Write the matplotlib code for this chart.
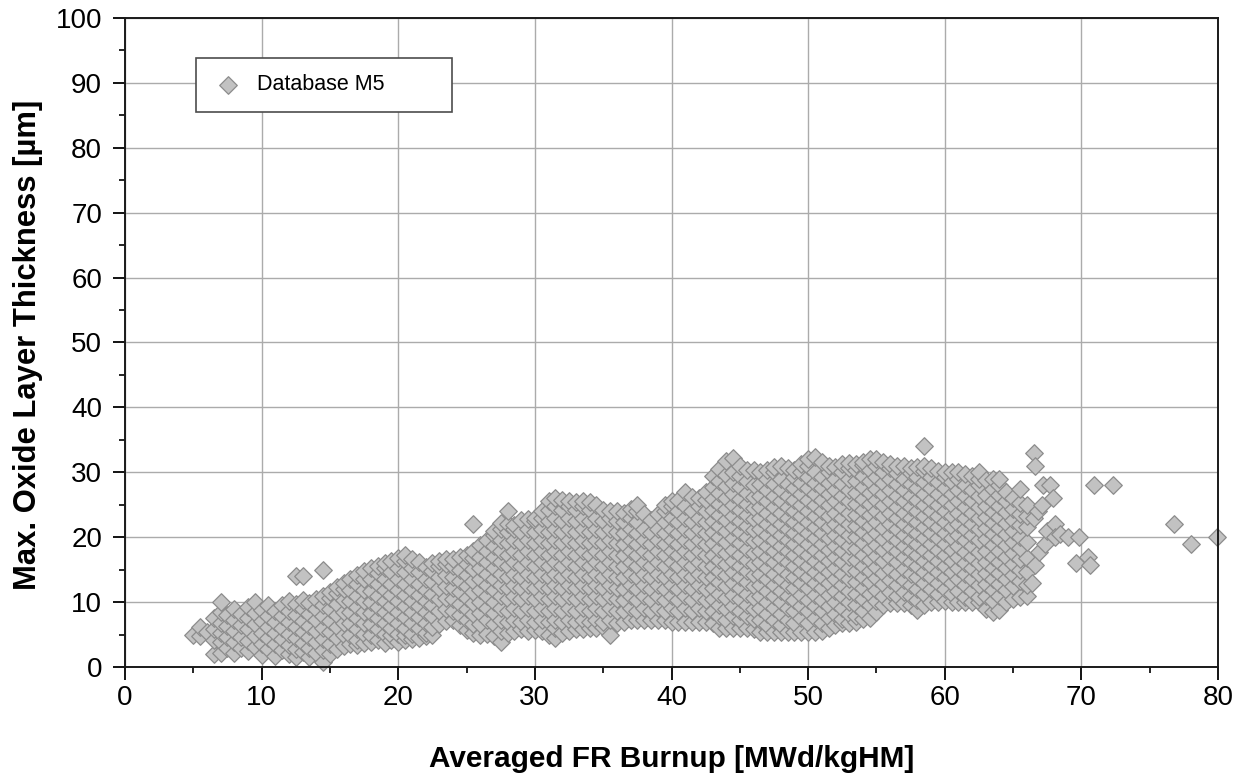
import matplotlib
matplotlib.use('Agg')
import matplotlib.pyplot as plt
from matplotlib.ticker import MultipleLocator
from matplotlib import rcParams

config = {
    "font.family": ['Liberation Sans', 'DejaVu Sans'],
    "font.size": 18,
    "axes.unicode_minus": False,
}
rcParams.update(config)

# (burnup, [oxide thickness values read in that burnup column])
low_columns = [
    (5.0, [5.0]),
    (5.5, [4.7, 6.1]),
    (6.0, [5.4]),
    (6.5, [2.0, 4.1, 5.9, 7.5]),
    (7.0, [2.2, 3.9, 5.2, 6.8, 8.4, 10.0]),
    (7.5, [3.0, 4.6, 6.3, 8.0]),
    (8.0, [2.1, 3.8, 5.5, 7.2, 8.9]),
    (8.5, [2.9, 4.6, 6.4, 8.1]),
    (9.0, [2.4, 4.0, 5.8, 7.5, 9.3]),
    (9.5, [3.1, 4.8, 6.6, 8.3, 10.0]),
    (10.0, [1.9, 3.6, 5.3, 7.1, 8.8]),
    (10.5, [2.7, 4.4, 6.2, 7.9, 9.6]),
    (11.0, [1.7, 3.5, 5.2, 6.9, 8.7]),
    (11.5, [2.6, 4.3, 6.0, 7.8, 9.6]),
    (12.0, [2.0, 3.4, 5.1, 6.9, 8.6, 10.2]),
    (12.5, [1.6, 2.8, 4.5, 6.2, 8.0, 9.7, 14.0]),
    (13.0, [2.3, 3.7, 5.4, 7.1, 8.9, 10.3, 14.0]),
    (13.5, [1.5, 3.0, 4.6, 6.3, 8.1, 9.8]),
    (14.0, [2.1, 3.8, 5.5, 7.2, 9.0, 10.5]),
    (14.5, [0.8, 2.6, 4.3, 6.0, 7.8, 9.5, 11.0, 15.0]),
    (15.0, [2.0, 3.6, 5.4, 7.1, 8.9, 10.6, 11.6]),
    (15.5, [2.8, 4.5, 6.2, 8.0, 9.7, 11.4, 12.3]),
    (16.0, [3.2, 5.0, 6.8, 8.5, 10.3, 12.0, 13.0]),
    (16.5, [3.6, 5.0, 6.7, 8.4, 10.1, 11.9, 13.6]),
    (17.0, [3.4, 4.2, 5.9, 7.6, 9.3, 11.0, 12.8, 14.2]),
    (17.5, [3.7, 5.1, 6.8, 8.5, 10.2, 11.9, 13.6, 14.8]),
    (18.0, [3.9, 5.0, 6.6, 8.3, 10.0, 11.7, 13.5, 15.2]),
    (18.5, [4.2, 5.9, 7.6, 9.3, 11.0, 12.8, 14.5, 15.5]),
    (19.0, [3.7, 5.1, 6.8, 8.5, 10.2, 11.9, 13.6, 15.3, 16.0]),
    (19.5, [4.1, 5.0, 6.0, 7.7, 9.4, 11.1, 12.8, 14.6, 16.4]),
    (20.0, [3.9, 5.1, 6.8, 8.5, 10.2, 11.9, 13.6, 15.3, 16.8]),
    (20.5, [4.2, 5.0, 6.0, 7.7, 9.4, 11.1, 12.8, 14.6, 16.3, 17.3]),
    (21.0, [4.3, 5.1, 6.8, 8.5, 10.2, 11.9, 13.6, 15.3, 16.6]),
    (21.5, [4.5, 6.0, 7.7, 9.4, 11.1, 12.8, 14.6, 16.2]),
    (22.0, [4.7, 5.3, 6.8, 8.5, 10.2, 11.9, 13.6, 15.4]),
]

mid_columns = [
    (22.5, [5.0, 6.2, 7.8, 9.6, 11.3, 13.1, 14.8, 16.0]),
    (23.0, [6.6, 8.7, 10.4, 12.2, 13.9, 15.6, 16.4]),
    (23.5, [7.1, 8.9, 10.7, 12.4, 14.2, 15.9, 16.6]),
    (24.0, [7.3, 8.7, 10.4, 12.2, 13.9, 15.6, 16.7]),
    (24.5, [6.5, 8.0, 9.7, 11.5, 13.2, 15.0, 17.0]),
    (25.0, [5.7, 7.3, 8.9, 10.6, 12.4, 14.1, 15.8, 17.2]),
    (25.5, [5.2, 6.6, 8.2, 9.9, 11.6, 13.3, 15.1, 16.8, 17.8, 22.0]),
    (26.0, [5.0, 6.6, 8.3, 10.0, 11.8, 13.5, 15.2, 17.0, 18.8]),
    (26.5, [5.1, 7.3, 9.1, 10.9, 12.6, 14.4, 16.1, 17.8, 19.6]),
    (27.0, [4.8, 6.6, 8.3, 10.0, 11.8, 13.5, 15.2, 17.0, 18.7, 20.4, 21.0]),
    (27.5, [3.8, 5.6, 7.3, 9.1, 10.9, 12.6, 14.4, 16.1, 17.8, 19.6, 21.3, 22.2]),
    (28.0, [5.3, 7.0, 8.7, 10.4, 12.2, 13.9, 15.6, 17.3, 19.1, 20.8, 22.0, 24.0]),
    (28.5, [5.6, 7.3, 9.1, 10.9, 12.6, 14.4, 16.1, 17.8, 19.6, 21.3, 21.8]),
    (29.0, [5.8, 7.0, 8.7, 10.4, 12.2, 13.9, 15.6, 17.3, 19.1, 20.8, 22.6]),
    (29.5, [5.6, 7.3, 9.1, 10.9, 12.6, 14.4, 16.1, 17.8, 19.6, 21.3, 22.8]),
    (30.0, [5.7, 7.0, 8.7, 10.4, 12.2, 13.9, 15.6, 17.3, 19.1, 20.8, 22.5, 23.0]),
    (30.5, [5.6, 7.3, 9.1, 10.9, 12.6, 14.4, 16.1, 17.8, 19.6, 21.3, 23.0, 24.0]),
    (31.0, [5.0, 7.0, 8.7, 10.4, 12.2, 13.9, 15.6, 17.3, 19.1, 20.8, 22.5, 24.2, 25.5]),
    (31.5, [4.5, 6.0, 7.3, 9.1, 10.9, 12.6, 14.4, 16.1, 17.8, 19.6, 21.3, 23.0, 24.8, 26.0]),
    (32.0, [5.2, 7.0, 8.7, 10.4, 12.2, 13.9, 15.6, 17.3, 19.1, 20.8, 22.5, 24.2, 25.8]),
    (32.5, [5.6, 7.3, 9.1, 10.9, 12.6, 14.4, 16.1, 17.8, 19.6, 21.3, 23.0, 24.8, 25.6]),
    (33.0, [5.8, 7.0, 8.7, 10.4, 12.2, 13.9, 15.6, 17.3, 19.1, 20.8, 22.5, 24.2, 25.4]),
    (33.5, [5.8, 7.3, 9.1, 10.9, 12.6, 14.4, 16.1, 17.8, 19.6, 21.3, 23.0, 24.8, 25.6]),
    (34.0, [6.0, 7.0, 8.7, 10.4, 12.2, 13.9, 15.6, 17.3, 19.1, 20.8, 22.5, 24.2, 25.4]),
    (34.5, [6.0, 7.3, 9.1, 10.9, 12.6, 14.4, 16.1, 17.8, 19.6, 21.3, 23.0, 25.0]),
    (35.0, [6.2, 7.0, 8.7, 10.4, 12.2, 13.9, 15.6, 17.3, 19.1, 20.8, 22.5, 24.2]),
    (35.5, [4.9, 7.3, 9.1, 10.9, 12.6, 14.4, 16.1, 17.8, 19.6, 21.3, 23.0, 24.0]),
    (36.0, [6.8, 8.7, 10.4, 12.2, 13.9, 15.6, 17.3, 19.1, 20.8, 22.5, 24.0]),
    (36.5, [7.0, 8.6, 10.3, 12.0, 13.8, 15.5, 17.2, 19.0, 20.7, 22.4, 23.8]),
    (37.0, [7.2, 9.1, 10.9, 12.6, 14.4, 16.1, 17.8, 19.6, 21.3, 23.0, 24.4]),
    (37.5, [7.2, 8.6, 10.3, 12.0, 13.8, 15.5, 17.2, 19.0, 20.7, 22.4, 24.1, 25.0]),
    (38.0, [7.2, 9.1, 10.9, 12.6, 14.4, 16.1, 17.8, 19.6, 21.3, 23.5]),
    (38.5, [7.2, 8.6, 10.3, 12.0, 13.8, 15.5, 17.2, 19.0, 20.7, 22.6]),
    (39.0, [7.2, 9.1, 10.9, 12.6, 14.4, 16.1, 17.8, 19.6, 21.3, 23.6]),
    (39.5, [7.2, 8.6, 10.3, 12.0, 13.8, 15.5, 17.2, 19.0, 20.7, 22.4, 24.1, 25.0]),
    (40.0, [7.0, 9.1, 10.9, 12.6, 14.4, 16.1, 17.8, 19.6, 21.3, 23.0, 24.8, 25.6]),
    (40.5, [7.0, 8.6, 10.3, 12.0, 13.8, 15.5, 17.2, 19.0, 20.7, 22.4, 24.1, 25.8]),
    (41.0, [7.0, 9.1, 10.9, 12.6, 14.4, 16.1, 17.8, 19.6, 21.3, 23.0, 24.8, 27.0]),
    (41.5, [7.0, 8.6, 10.3, 12.0, 13.8, 15.5, 17.2, 19.0, 20.7, 22.4, 24.1, 26.2]),
    (42.0, [7.0, 9.1, 10.9, 12.6, 14.4, 16.1, 17.8, 19.6, 21.3, 23.0, 24.8, 26.0]),
    (42.5, [7.0, 8.6, 10.3, 12.0, 13.8, 15.5, 17.2, 19.0, 20.7, 22.4, 24.1, 25.8, 27.0]),
]

high_columns = [
    (43.0, [6.8, 8.7, 10.4, 12.2, 13.9, 15.6, 17.3, 19.1, 20.8, 22.5, 24.2, 25.9, 27.7, 29.5]),
    (43.5, [6.0, 7.8, 9.6, 11.3, 13.1, 14.8, 16.5, 18.2, 20.0, 21.7, 23.4, 25.1, 26.8, 28.6, 30.5]),
    (44.0, [6.0, 7.2, 8.9, 10.6, 12.4, 14.1, 15.8, 17.5, 19.3, 21.0, 22.7, 24.4, 26.1, 27.9, 29.6, 31.8]),
    (44.5, [6.0, 7.8, 9.4, 11.1, 12.9, 14.6, 16.3, 18.0, 19.8, 21.5, 23.2, 24.9, 26.6, 28.4, 30.1, 32.2]),
    (45.0, [6.0, 7.3, 8.7, 10.4, 12.2, 13.9, 15.6, 17.3, 19.1, 20.8, 22.5, 24.2, 25.9, 27.7, 29.4, 31.0]),
    (45.5, [6.0, 7.8, 9.6, 11.3, 13.1, 14.8, 16.5, 18.2, 20.0, 21.7, 23.4, 25.1, 26.8, 28.6, 30.4]),
    (46.0, [5.8, 7.4, 9.0, 10.7, 12.5, 14.2, 15.9, 17.6, 19.4, 21.1, 22.8, 24.5, 26.2, 28.0, 30.3]),
    (46.5, [5.4, 7.3, 9.1, 10.9, 12.6, 14.4, 16.1, 17.8, 19.6, 21.3, 23.0, 24.7, 26.4, 28.2, 30.0]),
    (47.0, [5.4, 6.5, 8.2, 10.0, 11.7, 13.5, 15.2, 16.9, 18.6, 20.4, 22.1, 23.8, 25.5, 27.2, 29.0, 30.4]),
    (47.5, [5.4, 7.3, 9.1, 10.9, 12.6, 14.4, 16.1, 17.8, 19.6, 21.3, 23.0, 24.7, 26.4, 28.2, 30.0, 30.8]),
    (48.0, [5.4, 6.5, 8.2, 10.0, 11.7, 13.5, 15.2, 16.9, 18.6, 20.4, 22.1, 23.8, 25.5, 27.2, 29.0, 31.0]),
    (48.5, [5.4, 7.3, 9.1, 10.9, 12.6, 14.4, 16.1, 17.8, 19.6, 21.3, 23.0, 24.7, 26.4, 28.2, 30.6]),
    (49.0, [5.4, 6.8, 8.6, 10.3, 12.1, 13.8, 15.5, 17.2, 19.0, 20.7, 22.4, 24.1, 25.8, 27.6, 29.3, 30.4]),
    (49.5, [5.4, 7.6, 9.4, 11.1, 12.9, 14.6, 16.3, 18.0, 19.8, 21.5, 23.2, 24.9, 26.6, 28.4, 30.1, 31.2]),
    (50.0, [5.4, 6.8, 8.6, 10.3, 12.1, 13.8, 15.5, 17.2, 19.0, 20.7, 22.4, 24.1, 25.8, 27.6, 29.3, 31.0, 32.0]),
    (50.5, [5.4, 7.6, 9.4, 11.1, 12.9, 14.6, 16.3, 18.0, 19.8, 21.5, 23.2, 24.9, 26.6, 28.4, 30.1, 32.4]),
    (51.0, [5.6, 6.8, 8.6, 10.3, 12.1, 13.8, 15.5, 17.2, 19.0, 20.7, 22.4, 24.1, 25.8, 27.6, 29.3, 31.6]),
    (51.5, [6.0, 7.6, 9.4, 11.1, 12.9, 14.6, 16.3, 18.0, 19.8, 21.5, 23.2, 24.9, 26.6, 28.4, 30.1, 31.0]),
    (52.0, [6.4, 8.2, 10.0, 11.7, 13.5, 15.2, 16.9, 18.6, 20.4, 22.1, 23.8, 25.5, 27.2, 29.0, 30.8]),
    (52.5, [6.8, 7.4, 9.1, 10.9, 12.6, 14.4, 16.1, 17.8, 19.6, 21.3, 23.0, 24.7, 26.4, 28.2, 30.0, 31.2]),
    (53.0, [6.8, 8.2, 10.0, 11.7, 13.5, 15.2, 16.9, 18.6, 20.4, 22.1, 23.8, 25.5, 27.2, 29.0, 30.7, 31.4]),
    (53.5, [7.0, 7.8, 9.6, 11.3, 13.1, 14.8, 16.5, 18.2, 20.0, 21.7, 23.4, 25.1, 26.8, 28.6, 30.3, 31.2]),
    (54.0, [7.4, 8.7, 10.4, 12.2, 13.9, 15.6, 17.3, 19.1, 20.8, 22.5, 24.2, 25.9, 27.7, 29.4, 31.1, 31.6]),
    (54.5, [7.5, 9.6, 11.3, 13.1, 14.8, 16.5, 18.2, 20.0, 21.7, 23.4, 25.1, 26.8, 28.6, 30.3, 32.0]),
    (55.0, [8.5, 10.2, 11.9, 13.7, 15.4, 17.1, 18.8, 20.6, 22.3, 24.0, 25.7, 27.4, 29.2, 30.9, 32.0]),
    (55.5, [9.5, 11.0, 12.8, 14.5, 16.3, 18.0, 19.7, 21.4, 23.2, 24.9, 26.6, 28.3, 30.1, 31.6]),
    (56.0, [9.8, 11.6, 13.4, 15.1, 16.9, 18.6, 20.3, 22.0, 23.8, 25.5, 27.2, 28.9, 30.7, 31.2]),
    (56.5, [9.8, 10.9, 12.6, 14.4, 16.1, 17.8, 19.6, 21.3, 23.0, 24.7, 26.4, 28.2, 29.9, 31.0]),
    (57.0, [9.8, 11.6, 13.4, 15.1, 16.9, 18.6, 20.3, 22.0, 23.8, 25.5, 27.2, 28.9, 31.0]),
    (57.5, [9.5, 10.9, 12.6, 14.4, 16.1, 17.8, 19.6, 21.3, 23.0, 24.7, 26.4, 28.2, 29.9, 30.6]),
    (58.0, [8.8, 10.3, 12.0, 13.8, 15.5, 17.2, 19.0, 20.7, 22.4, 24.1, 25.8, 27.6, 29.3, 30.8]),
    (58.5, [9.5, 11.2, 12.9, 14.7, 16.4, 18.1, 19.9, 21.6, 23.3, 25.0, 26.7, 28.5, 30.2, 31.0, 34.0]),
    (59.0, [10.0, 12.0, 13.8, 15.5, 17.2, 19.0, 20.7, 22.4, 24.1, 25.8, 27.6, 29.3, 30.6]),
    (59.5, [10.0, 11.2, 12.9, 14.7, 16.4, 18.1, 19.9, 21.6, 23.3, 25.0, 26.7, 28.5, 30.2]),
    (60.0, [10.2, 12.0, 13.8, 15.5, 17.2, 19.0, 20.7, 22.4, 24.1, 25.8, 27.6, 29.3, 30.0]),
    (60.5, [10.0, 11.2, 12.9, 14.7, 16.4, 18.1, 19.9, 21.6, 23.3, 25.0, 26.7, 28.5, 30.0]),
    (61.0, [10.0, 11.7, 13.5, 15.2, 16.9, 18.6, 20.4, 22.1, 23.8, 25.5, 27.2, 29.0, 30.0]),
    (61.5, [10.0, 10.8, 12.6, 14.3, 16.0, 17.7, 19.5, 21.2, 22.9, 24.6, 26.3, 28.1, 29.8]),
    (62.0, [10.0, 11.7, 13.5, 15.2, 16.9, 18.6, 20.4, 22.1, 23.8, 25.5, 27.2, 29.4]),
    (62.5, [10.0, 10.8, 12.6, 14.3, 16.0, 17.7, 19.5, 21.2, 22.9, 24.6, 26.3, 28.1, 29.0, 30.0]),
    (63.0, [9.0, 11.0, 12.8, 14.5, 16.2, 17.9, 19.7, 21.4, 23.1, 24.8, 26.5, 28.8]),
    (63.5, [8.5, 10.1, 11.9, 13.6, 15.3, 17.0, 18.8, 20.5, 22.2, 23.9, 25.6, 27.4, 29.0]),
    (64.0, [8.8, 11.0, 12.8, 14.5, 16.2, 17.9, 19.7, 21.4, 23.1, 24.8, 26.5, 28.0, 29.0]),
    (64.5, [10.0, 11.9, 13.6, 15.3, 17.0, 18.8, 20.5, 22.2, 23.9, 25.6, 27.0]),
    (65.0, [10.4, 12.4, 14.1, 15.8, 17.6, 19.3, 21.0, 22.7, 24.4, 26.0]),
    (65.5, [10.8, 13.2, 15.0, 16.7, 18.4, 20.1, 21.9, 23.6, 25.3, 27.5]),
    (66.0, [11.0, 12.6, 14.6, 16.8, 19.2, 21.5, 23.2, 25.0]),
]

# scattered high-burnup points
tail_burnup = [66.4, 66.6, 66.5, 66.6, 66.9, 66.5, 66.8, 67.1, 67.2, 67.7, 67.9, 67.3, 67.5,
               68.1, 68.1, 68.4, 69.0, 69.8, 69.6, 70.5, 70.6, 70.9, 72.3, 76.8, 78.0, 79.9]
tail_oxide = [13.0, 15.7, 33.0, 31.0, 17.7, 23.0, 24.0, 25.0, 28.0, 28.0, 26.0, 19.0, 21.0,
              22.0, 20.0, 20.5, 20.0, 20.0, 16.0, 17.0, 15.7, 28.0, 28.0, 22.0, 19.0, 20.0]

x_ticks = [0, 10, 20, 30, 40, 50, 60, 70, 80]
y_ticks = [0, 10, 20, 30, 40, 50, 60, 70, 80, 90, 100]


def plot_oxide():
    burnup, oxide = [], []
    for columns in (low_columns, mid_columns, high_columns):
        for bu, values in columns:
            for ox in values:
                burnup.append(bu)
                oxide.append(ox)
    burnup += tail_burnup
    oxide += tail_oxide

    fig = plt.figure(figsize=(12.4, 7.76), dpi=100)
    ax = fig.add_axes([0.1008, 0.1405, 0.8815, 0.8363])

    ax.scatter(burnup, oxide, marker='D', s=80, c='#c2c2c2', edgecolors='#8c8c8c',
               linewidths=0.9, label='Database M5', clip_on=False, zorder=3)

    ax.set_xlim(0, 80)
    ax.set_ylim(0, 100)
    ax.set_xticks(x_ticks)
    ax.set_yticks(y_ticks)
    ax.xaxis.set_minor_locator(MultipleLocator(5))
    ax.yaxis.set_minor_locator(MultipleLocator(5))
    ax.tick_params(which='major', direction='out', length=9, width=1.3, labelsize=20, pad=4)
    ax.tick_params(axis='y', which='major', pad=7.5)
    ax.tick_params(which='minor', direction='out', length=4.5, width=1.2)
    ax.grid(True, which='major', color='#ababab', linewidth=1.0)
    ax.set_axisbelow(True)
    for side in ax.spines.values():
        side.set_linewidth(1.4)
        side.set_color('#1a1a1a')
        side.set_zorder(4)

    ax.set_xlabel('Averaged FR Burnup [MWd/kgHM]', fontsize=21.4, fontweight='bold')
    ax.set_ylabel('Max. Oxide Layer Thickness [µm]', fontsize=22.3, fontweight='bold')
    ax.xaxis.set_label_coords(0.5, -0.121)
    ax.yaxis.set_label_coords(-0.075, 0.496)

    leg = ax.legend(loc='upper left', bbox_to_anchor=(0.065, 0.938, 0.234, 0), mode='expand',
                    borderaxespad=0, fontsize=15.5, borderpad=0.75, handlelength=1.5,
                    handletextpad=0.6, fancybox=False, framealpha=1, scatterpoints=1)
    leg.get_frame().set_edgecolor('#4d4d4d')
    leg.get_frame().set_linewidth(1.2)
    leg.set_zorder(5)

    plt.savefig('out.png', dpi=100)
    plt.close()


if __name__ == '__main__':
    plot_oxide()
